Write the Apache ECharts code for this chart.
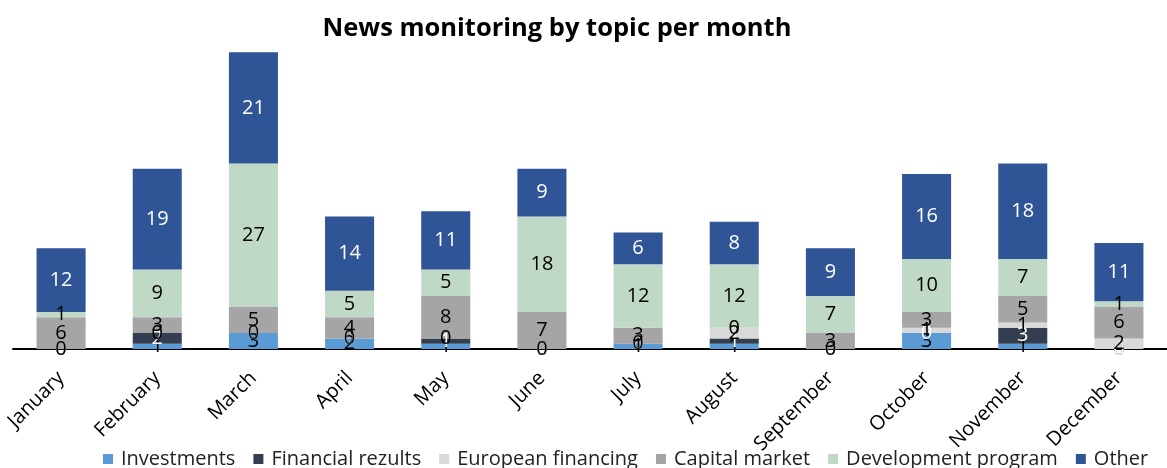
<!DOCTYPE html>
<html>
<head>
<meta charset="utf-8">
<script src="https://cdn.jsdelivr.net/npm/echarts@6/dist/echarts.min.js"></script>
<style>html,body{margin:0;padding:0;background:#fff}#c{width:1167px;height:468px}</style>
</head>
<body>
<div id="c"></div>
<script>
const months = ["January","February","March","April","May","June","July","August","September","October","November","December"];
const investments = [0,1,3,2,1,0,1,1,0,3,1,0];
const financial   = [0,2,0,0,1,0,0,1,0,0,3,0];
const european    = [0,0,0,0,0,0,0,2,0,1,1,2];
const capital     = [6,3,5,4,8,7,3,0,3,3,5,6];
const development = [1,9,27,5,5,18,12,12,7,10,7,1];
const other       = [12,19,21,14,11,9,6,8,9,16,18,11];

const FONT = "'Open Sans', 'Noto Sans', sans-serif";
function mk(name, data, color, labelColor, extra) {
  return Object.assign({
    name, type: 'bar', stack: 'all', data, barWidth: '51%',
    itemStyle: { color },
    label: { show: true, position: 'inside', color: labelColor, fontSize: 20, fontFamily: FONT },
    emphasis: { disabled: true }
  }, extra || {});
}
const chart = echarts.init(document.getElementById('c'));
chart.setOption({
  animation: false,
  title: { text: 'News monitoring by topic per month', left: 552, top: 11, textAlign: 'center',
    textStyle: { fontSize: 25.5, fontWeight: 'bold', color: '#000', fontFamily: FONT } },
  legend: { top: 444, left: 98, itemWidth: 10, itemHeight: 10, itemGap: 18,
    textStyle: { fontSize: 20, color: '#222', fontFamily: FONT, padding: [0,0,0,3] }, icon: 'rect' },
  grid: { left: 13, width: 1166, top: 31, height: 318, containLabel: false },
  xAxis: { type: 'category', data: months,
    axisLine: { lineStyle: { color: '#000', width: 2 } }, axisTick: { show: false },
    axisLabel: { rotate: 45, fontSize: 20, color: '#000', fontFamily: FONT, margin: 26, interval: 0 } },
  yAxis: { type: 'value', min: 0, max: 60, show: false, splitLine: { show: false } },
  series: [
    mk('Investments', investments, '#5B9BD5', '#000'),
    mk('Financial rezults', financial, '#333F50', '#fff'),
    mk('European financing', european, '#D9D9D9', '#000'),
    mk('Capital market', capital, '#A5A5A5', '#000'),
    mk('Development program', development, '#C0D9C6', '#000'),
    mk('Other', other, '#2F5597', '#fff')
  ]
});
</script>
</body>
</html>
